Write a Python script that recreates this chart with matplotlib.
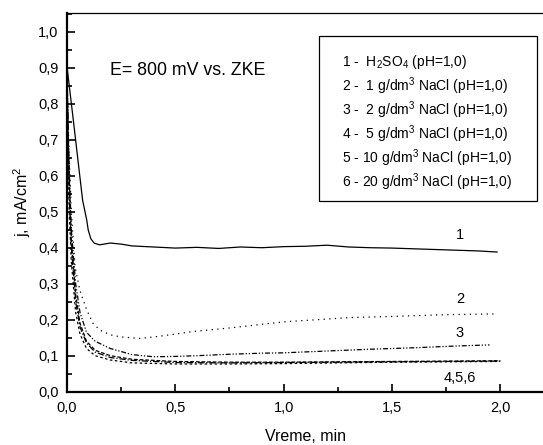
import matplotlib
matplotlib.use('Agg')
import matplotlib.pyplot as plt
from matplotlib.ticker import MultipleLocator, FuncFormatter
from matplotlib.patches import Rectangle

plt.rcParams['font.family'] = ['Liberation Sans', 'DejaVu Sans']
plt.rcParams['mathtext.fontset'] = 'custom'
plt.rcParams['mathtext.rm'] = 'Liberation Sans'
plt.rcParams['mathtext.it'] = 'Liberation Sans:italic'
plt.rcParams['mathtext.default'] = 'regular'

# curve 1 - H2SO4
t1 = [0.0, 0.03, 0.072, 0.091, 0.098, 0.11, 0.125, 0.15, 0.2, 0.25, 0.3, 0.4, 0.5,
      0.6, 0.7, 0.8, 0.9, 1.0, 1.1, 1.2, 1.3, 1.4, 1.5, 1.6, 1.7, 1.8, 1.9, 1.985]
j1 = [0.903, 0.75, 0.532, 0.477, 0.449, 0.425, 0.413, 0.408, 0.413, 0.41, 0.405, 0.402, 0.399,
      0.401, 0.398, 0.402, 0.400, 0.403, 0.404, 0.407, 0.402, 0.400, 0.399, 0.397, 0.395, 0.393, 0.391, 0.388]

# curve 2 - 1 g/dm3
t2 = [0.0, 0.01, 0.02, 0.037, 0.06, 0.091, 0.12, 0.152, 0.2, 0.25, 0.337, 0.4, 0.5, 0.58,
      0.75, 1.0, 1.306, 1.5, 1.75, 1.975]
j2 = [0.87, 0.65, 0.5, 0.347, 0.28, 0.227, 0.19, 0.171, 0.158, 0.152, 0.148, 0.152, 0.16, 0.167,
      0.177, 0.194, 0.206, 0.209, 0.214, 0.216]

# curve 3 - 2 g/dm3
t3 = [0.0, 0.01, 0.02, 0.04, 0.06, 0.09, 0.13, 0.2, 0.3, 0.4, 0.5, 0.6, 0.75, 0.9, 1.0,
      1.2, 1.4, 1.6, 1.8, 1.95]
j3 = [0.85, 0.62, 0.45, 0.3, 0.22, 0.165, 0.14, 0.12, 0.103, 0.097, 0.098, 0.1, 0.104, 0.107, 0.108,
      0.113, 0.118, 0.122, 0.127, 0.13]

# curves 4, 5, 6 - 5, 10, 20 g/dm3
t456 = [0.0, 0.01, 0.02, 0.04, 0.06, 0.09, 0.13, 0.2, 0.3, 0.5, 0.75, 1.0, 1.25, 1.5, 1.75, 2.0]
j4 = [0.88, 0.6, 0.42, 0.27, 0.19, 0.14, 0.115, 0.1, 0.09, 0.084, 0.082, 0.082, 0.083, 0.084, 0.085, 0.086]
j5 = [0.9, 0.55, 0.4, 0.25, 0.18, 0.135, 0.11, 0.095, 0.087, 0.081, 0.08, 0.081, 0.082, 0.083, 0.084, 0.085]
j6 = [0.86, 0.5, 0.36, 0.22, 0.16, 0.12, 0.1, 0.088, 0.08, 0.077, 0.077, 0.078, 0.08, 0.082, 0.083, 0.084]

legend_lines = [
    '1 -  H$_2$SO$_4$ (pH=1,0)',
    '2 -  1 g/dm$^3$ NaCl (pH=1,0)',
    '3 -  2 g/dm$^3$ NaCl (pH=1,0)',
    '4 -  5 g/dm$^3$ NaCl (pH=1,0)',
    '5 - 10 g/dm$^3$ NaCl (pH=1,0)',
    '6 - 20 g/dm$^3$ NaCl (pH=1,0)',
]

fig = plt.figure(figsize=(5.43, 4.45), dpi=100)
ax = fig.add_axes([0.1234, 0.1198, 0.8766, 0.8517])

lw = 0.9
ax.plot(t1, j1, color='black', lw=lw, linestyle='-')
ax.plot(t2, j2, color='black', lw=lw, linestyle=(0, (1, 3.5)))
ax.plot(t3, j3, color='black', lw=lw, linestyle=(0, (4, 1.5, 1, 1.5, 1, 1.5)))
ax.plot(t456, j4, color='black', lw=lw, linestyle=(0, (3, 1.5)))
ax.plot(t456, j5, color='black', lw=lw, linestyle=(0, (5, 1.5, 1, 1.5)))
ax.plot(t456, j6, color='black', lw=lw, linestyle=(0, (2, 2)))

ax.set_xlim(0, 2.197)
ax.set_ylim(0, 1.053)

comma = FuncFormatter(lambda v, p: f'{v:.1f}'.replace('.', ','))
ax.xaxis.set_major_locator(MultipleLocator(0.5))
ax.xaxis.set_minor_locator(MultipleLocator(0.25))
ax.yaxis.set_major_locator(MultipleLocator(0.1))
ax.yaxis.set_minor_locator(MultipleLocator(0.05))
ax.xaxis.set_major_formatter(comma)
ax.yaxis.set_major_formatter(comma)
ax.tick_params(which='both', direction='in', width=1.2, labelsize=10.5)
ax.tick_params(which='major', length=6)
ax.tick_params(which='minor', length=3.5)
ax.tick_params(axis='y', pad=6)
ax.tick_params(axis='x', pad=7)
ax.tick_params(top=False, right=False, which='both')

ax.spines['right'].set_visible(False)
ax.spines['left'].set_linewidth(1.6)
ax.spines['bottom'].set_linewidth(1.6)
ax.spines['top'].set_linewidth(0.9)

ax.set_xlabel('Vreme, min', fontsize=11.5, labelpad=10)
ax.set_ylabel('j, mA/cm$^2$', fontsize=11.5, labelpad=4)

ax.text(0.198, 0.891, 'E= 800 mV vs. ZKE', fontsize=12.8, va='center', ha='left')

ax.text(1.814, 0.435, '1', fontsize=10.5, ha='center', va='center')
ax.text(1.814, 0.257, '2', fontsize=10.5, ha='center', va='center')
ax.text(1.81, 0.163, '3', fontsize=10.5, ha='center', va='center')
ax.text(1.814, 0.038, '4,5,6', fontsize=10.5, ha='center', va='center')

# legend box drawn in pixel space
H = 445
box = Rectangle((319 / 543, 1 - 201 / H), (537 - 319) / 543, (201 - 36) / H,
                transform=fig.transFigure, fill=False, edgecolor='black', lw=0.9)
fig.patches.append(box)
for i, s in enumerate(legend_lines):
    y = 62 + i * 24
    fig.text(342 / 543, 1 - y / H, s, fontsize=10, va='center', ha='left')

plt.savefig('out.png', dpi=100)
